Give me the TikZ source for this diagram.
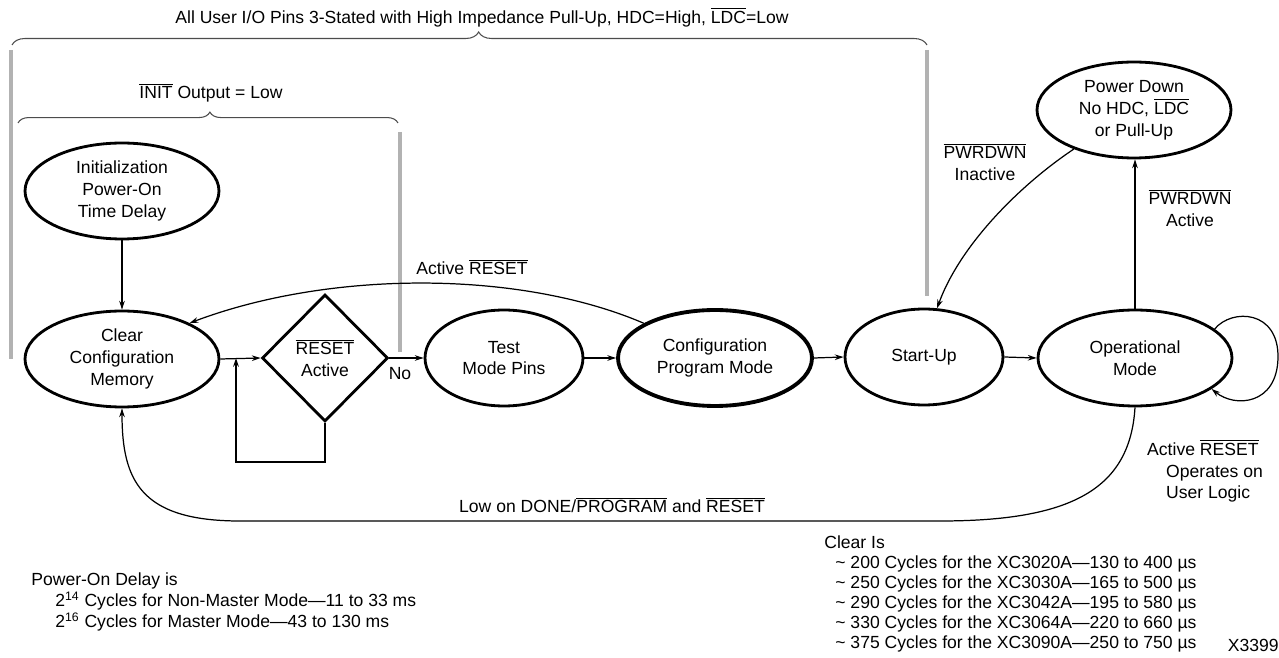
\documentclass[tikz,border=0pt]{standalone}
\usepackage{fontspec}
\setmainfont{Liberation Sans}
\usetikzlibrary{shapes.geometric,arrows.meta,decorations.pathreplacing}
\newcommand{\ovl}[1]{$\overline{\hbox{#1}}$}

\begin{document}
\begin{tikzpicture}[
		x=0.02cm, y=-0.02cm,
		>={Stealth[length=5pt,width=3.2pt]},
		font=\fontsize{10}{12.4}\selectfont,
		state/.style={ellipse, draw, line width=1.6pt, inner sep=0pt, align=center, minimum width=3.88cm, minimum height=1.92cm},
		smallstate/.style={state, minimum width=3.16cm},
		decision/.style={diamond, draw, line width=1.6pt, inner sep=0pt, align=center, minimum width=2.52cm, minimum height=2.54cm},
		flow/.style={->, line width=0.7pt},
		greybar/.style={line width=2.8pt, black!30},
		bracestyle/.style={decorate, line width=0.6pt, black!70},
		note/.style={inner sep=0pt, align=left, font=\fontsize{10}{11.4}\selectfont}
	]
		\useasboundingbox (0,0) rectangle (1279,658);
		\def\indentA{0.22cm}
		\def\indentB{0.48cm}
		
		%Braces and bars
		
		\node (allio) at (482,17) {All User I/O Pins 3-Stated with High Impedance Pull-Up, HDC=High, \ovl{LDC}=Low};
		\draw[bracestyle, decoration={brace, amplitude=7.4pt, aspect=0.51}] (12,45) -- (927,45);
		\node (initlbl) at (211,93) {\ovl{INIT} Output = Low};
		\draw[bracestyle, decoration={brace, amplitude=6.2pt, aspect=0.505}] (18,123) -- (398,123);
		
		\draw[greybar] (11,50) -- (11,359);
		\draw[greybar] (400,132) -- (400,352);
		\draw[greybar] (927,50) -- (927,296);
		
		%States
		
		\node[state] (init) at (122,191) {Initialization\\Power-On\\Time Delay};
		\node[state] (clr) at (122,359) {Clear\\Configuration\\Memory};
		\node[decision] (rst) at (325,358) {\ovl{RESET}\\Active};
		\node[smallstate] (tst) at (504,358) {Test\\Mode Pins};
		\node[state, line width=2.2pt] (cfg) at (715,358) {Configuration\\Program Mode};
		\node[smallstate] (sup) at (924,357) {Start-Up};
		\node[state] (opm) at (1135,358) {Operational\\Mode};
		\node[state] (pd) at (1134,110) {Power Down\\No HDC, \ovl{LDC}\\or Pull-Up};
		
		%Transitions
		
		\draw[flow] (init) -- (clr);
		\draw[flow] (clr.east) -- (rst.west);
		\coordinate (loopin) at (236,358);
		\draw[flow] (rst.south) -- ++(0,39) -| (loopin);
		\draw[flow] (rst.east) -- (tst.west);
		\node (nolbl) at (400,374) {No};
		\draw[flow] (tst.east) -- (cfg.west);
		\draw[flow] (cfg.east) -- (sup.west);
		\draw[flow] (sup.east) -- (opm.west);
		\draw[flow] (opm.north) -- (opm.north |- pd.south);
		\draw[flow] (pd.213) .. controls (1020,185) and (960,245) .. (sup.75);
		\draw[flow] (opm.20) .. controls (1232,308) and (1279,310) .. (1278,358) .. controls (1277,405) and (1235,408) .. (opm.-22);
		\draw[flow] (cfg.154) .. controls (520,270) and (330,270) .. (clr.28);
		\draw[flow] (opm.south) .. controls (1130,490) and (1070,521) .. (940,521) -- (240,521) .. controls (140,521) and (122,480) .. (clr.south);
		
		%Labels
		
		\node (rstlbl) at (472,267) {Active \ovl{RESET}};
		\node[align=center] (inactlbl) at (985,162) {\ovl{PWRDWN}\\Inactive};
		\node[align=center] (actlbl) at (1190,208) {\ovl{PWRDWN}\\Active};
		\node[anchor=west, align=left] (oplbl) at (1141,471) {Active \ovl{RESET}\\\hspace*{0.38cm}Operates on\\\hspace*{0.38cm}User Logic};
		\node (donelbl) at (612,505) {Low on DONE/\ovl{PROGRAM} and \ovl{RESET}};
		
		%Notes
		
		\node[note, anchor=north west] (clearnote) at (824,535) {Clear Is\\
			\hspace*{\indentA}\textasciitilde\ 200 Cycles for the XC3020A—130 to 400 µs\\
			\hspace*{\indentA}\textasciitilde\ 250 Cycles for the XC3030A—165 to 500 µs\\
			\hspace*{\indentA}\textasciitilde\ 290 Cycles for the XC3042A—195 to 580 µs\\
			\hspace*{\indentA}\textasciitilde\ 330 Cycles for the XC3064A—220 to 660 µs\\
			\hspace*{\indentA}\textasciitilde\ 375 Cycles for the XC3090A—250 to 750 µs};
		\node[note, anchor=north west, font=\fontsize{10}{12.2}\selectfont] (delaynote) at (31,572) {Power-On Delay is\\
			\hspace*{\indentB}2\textsuperscript{14} Cycles for Non-Master Mode—11 to 33 ms\\
			\hspace*{\indentB}2\textsuperscript{16} Cycles for Master Mode—43 to 130 ms};
		\node[anchor=east, inner sep=0pt] (fignum) at (1279,645) {X3399};
	\end{tikzpicture}
\end{document}
